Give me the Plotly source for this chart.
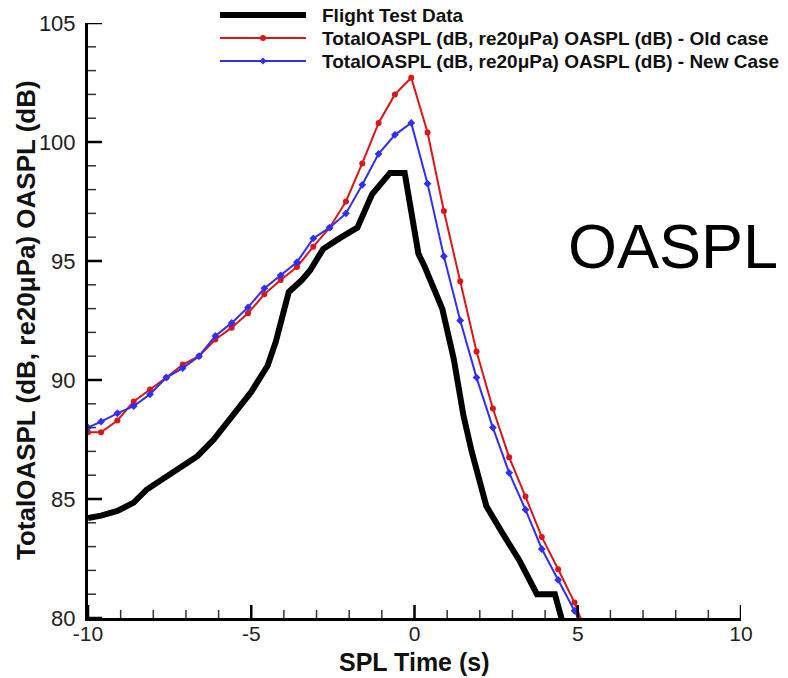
import plotly.graph_objects as go

# ---------------- data ----------------
flight_x = [-10, -9.6, -9.1, -8.6, -8.2, -7.6, -7.1, -6.65, -6.15, -5.5, -5.0, -4.5,
            -4.25, -3.85, -3.45, -3.2, -2.8, -2.3, -1.75, -1.3, -0.75, -0.3, 0.12,
            0.3, 0.65, 0.85, 1.2, 1.5, 1.75, 2.2, 2.7, 3.2, 3.75, 4.3, 4.5, 4.6]
flight_y = [84.2, 84.3, 84.5, 84.85, 85.4, 85.95, 86.4, 86.8, 87.5, 88.6, 89.5, 90.6,
            91.6, 93.7, 94.2, 94.6, 95.5, 95.95, 96.4, 97.8, 98.7, 98.7, 95.3,
            94.8, 93.6, 93.0, 90.9, 88.5, 87.0, 84.7, 83.55, 82.45, 81.0, 81.0, 80.0, 79.5]

case_x = [-10, -9.6, -9.1, -8.6, -8.1, -7.6, -7.1, -6.6, -6.1, -5.6, -5.1, -4.6, -4.1,
          -3.6, -3.1, -2.6, -2.1, -1.6, -1.1, -0.6, -0.1, 0.4, 0.9, 1.4, 1.9, 2.4,
          2.9, 3.4, 3.9, 4.4, 4.9, 5.4]
old_y = [87.8, 87.8, 88.3, 89.1, 89.6, 90.1, 90.65, 91.0, 91.7, 92.2, 92.8, 93.6, 94.2,
         94.75, 95.6, 96.4, 97.5, 99.1, 100.8, 102.0, 102.7, 100.4, 97.1, 94.15, 91.2,
         88.8, 86.75, 85.1, 83.4, 82.05, 80.65, 78.9]
new_y = [88.0, 88.25, 88.6, 88.9, 89.4, 90.1, 90.5, 91.0, 91.85, 92.4, 93.05, 93.85, 94.4,
         94.95, 95.95, 96.4, 97.0, 98.2, 99.5, 100.3, 100.8, 98.25, 95.2, 92.5, 90.1,
         88.0, 86.1, 84.55, 82.9, 81.6, 80.3, 79.0]

names = ["Flight Test Data",
         "TotalOASPL (dB, re20\u03bcPa) OASPL (dB) - Old case",
         "TotalOASPL (dB, re20\u03bcPa) OASPL (dB) - New Case"]
x_title = "SPL Time (s)"
y_title = "TotalOASPL (dB, re20\u03bcPa) OASPL (dB)"
x_ticks = [-10, -5, 0, 5, 10]
y_ticks = [80, 85, 90, 95, 100, 105]
x_minor = [-9, -8, -7, -6, -4, -3, -2, -1, 1, 2, 3, 4, 6, 7, 8, 9]
y_minor = [81, 82, 83, 84, 86, 87, 88, 89, 91, 92, 93, 94, 96, 97, 98, 99, 101, 102, 103, 104]

RED = "#dd1515"
BLUE = "#2e2eff"
FONT = "Arial, Liberation Sans, Helvetica, sans-serif"

W, H = 788, 678
ML, MR, MT, MB = 88, 47, 23, 60
PW, PH = W - ML - MR, H - MT - MB


def px(xp):
    return (xp - ML) / PW


def py(yp):
    return (H - MB - yp) / PH


fig = go.Figure()
fig.add_trace(go.Scatter(x=flight_x, y=flight_y, mode="lines",
                         line=dict(color="black", width=6), name=names[0],
                         showlegend=False))
fig.add_trace(go.Scatter(x=case_x, y=old_y, mode="lines+markers",
                         line=dict(color=RED, width=2),
                         marker=dict(color=RED, size=6, symbol="circle"),
                         name=names[1], showlegend=False, cliponaxis=True))
fig.add_trace(go.Scatter(x=case_x, y=new_y, mode="lines+markers",
                         line=dict(color=BLUE, width=2),
                         marker=dict(color=BLUE, size=6, symbol="diamond"),
                         name=names[2], showlegend=False, cliponaxis=True))

shapes = []
annotations = []

# ---------------- tick marks (inside) ----------------
for v in x_ticks:
    shapes.append(dict(type="line", xref="x", yref="paper", x0=v, x1=v,
                       y0=0, y1=13 / PH, line=dict(color="black", width=2.5)))
for v in x_minor:
    shapes.append(dict(type="line", xref="x", yref="paper", x0=v, x1=v,
                       y0=0, y1=8 / PH, line=dict(color="#333", width=1.5)))
for v in y_ticks:
    shapes.append(dict(type="line", xref="paper", yref="y", y0=v, y1=v,
                       x0=0, x1=14 / PW, line=dict(color="black", width=2.5)))
for v in y_minor:
    shapes.append(dict(type="line", xref="paper", yref="y", y0=v, y1=v,
                       x0=0, x1=8 / PW, line=dict(color="#333", width=1.5)))

# ---------------- manual legend ----------------
leg_rows = [(15, "black", 6, None), (38, RED, 2, "circle"), (61, BLUE, 2, "diamond")]
for (yy, col, lw, sym), label in zip(leg_rows, names):
    shapes.append(dict(type="line", xref="paper", yref="paper",
                       x0=px(220), x1=px(306), y0=py(yy), y1=py(yy),
                       line=dict(color=col, width=lw)))
    if sym == "circle":
        shapes.append(dict(type="circle", xref="paper", yref="paper",
                           x0=px(260), x1=px(266), y0=py(yy + 3), y1=py(yy - 3),
                           fillcolor=col, line=dict(color=col, width=0)))
    elif sym == "diamond":
        shapes.append(dict(type="path", xref="paper", yref="paper",
                           path=f"M {px(263)},{py(yy-3.5)} L {px(266.5)},{py(yy)} "
                                f"L {px(263)},{py(yy+3.5)} L {px(259.5)},{py(yy)} Z",
                           fillcolor=col, line=dict(color=col, width=0)))
    annotations.append(dict(xref="paper", yref="paper", x=px(321), y=py(yy),
                            text=f"<b>{label}</b>", showarrow=False,
                            xanchor="left", yanchor="middle", borderpad=0,
                            font=dict(family=FONT, size=19, color="#111")))

annotations.append(dict(xref="paper", yref="paper", x=px(673), y=py(246),
                        text="OASPL", showarrow=False, xanchor="center",
                        yanchor="middle",
                        font=dict(family=FONT, size=63, color="black")))

# axis titles placed as annotations for exact positioning
annotations.append(dict(xref="paper", yref="paper", x=px(414), y=py(662),
                        text=f"<b>{x_title}</b>", showarrow=False,
                        xanchor="center", yanchor="middle", borderpad=0,
                        font=dict(family=FONT, size=25, color="#111")))
annotations.append(dict(xref="paper", yref="paper", x=px(26), y=py(320),
                        text=f"<b>{y_title}</b>", showarrow=False, textangle=-90,
                        xanchor="center", yanchor="middle",
                        font=dict(family=FONT, size=26, color="#111")))

fig.update_layout(
    width=W, height=H,
    margin=dict(l=ML, r=MR, t=MT, b=MB, pad=0, autoexpand=False),
    paper_bgcolor="white", plot_bgcolor="white",
    showlegend=False,
    shapes=shapes, annotations=annotations,
    font=dict(family=FONT, color="#222"),
)
fig.update_xaxes(
    range=[-10, 10], tickmode="array", tickvals=x_ticks,
    ticktext=[str(v) for v in x_ticks],
    showgrid=False, zeroline=False, showline=True, linecolor="black", linewidth=3,
    ticks="", tickfont=dict(family=FONT, size=21, color="#222"), automargin=False,
    ticklabelstandoff=-5,
)
fig.update_yaxes(
    range=[80, 105], tickmode="array", tickvals=y_ticks,
    ticktext=[str(v) for v in y_ticks],
    showgrid=False, zeroline=False, showline=True, linecolor="black", linewidth=3,
    ticks="", tickfont=dict(family=FONT, size=22, color="#222"), automargin=False,
    ticklabelstandoff=5,
)

fig.write_html("out.html", config={"displayModeBar": False},
               post_script="document.body.style.margin='0';document.body.style.overflow='hidden';")
